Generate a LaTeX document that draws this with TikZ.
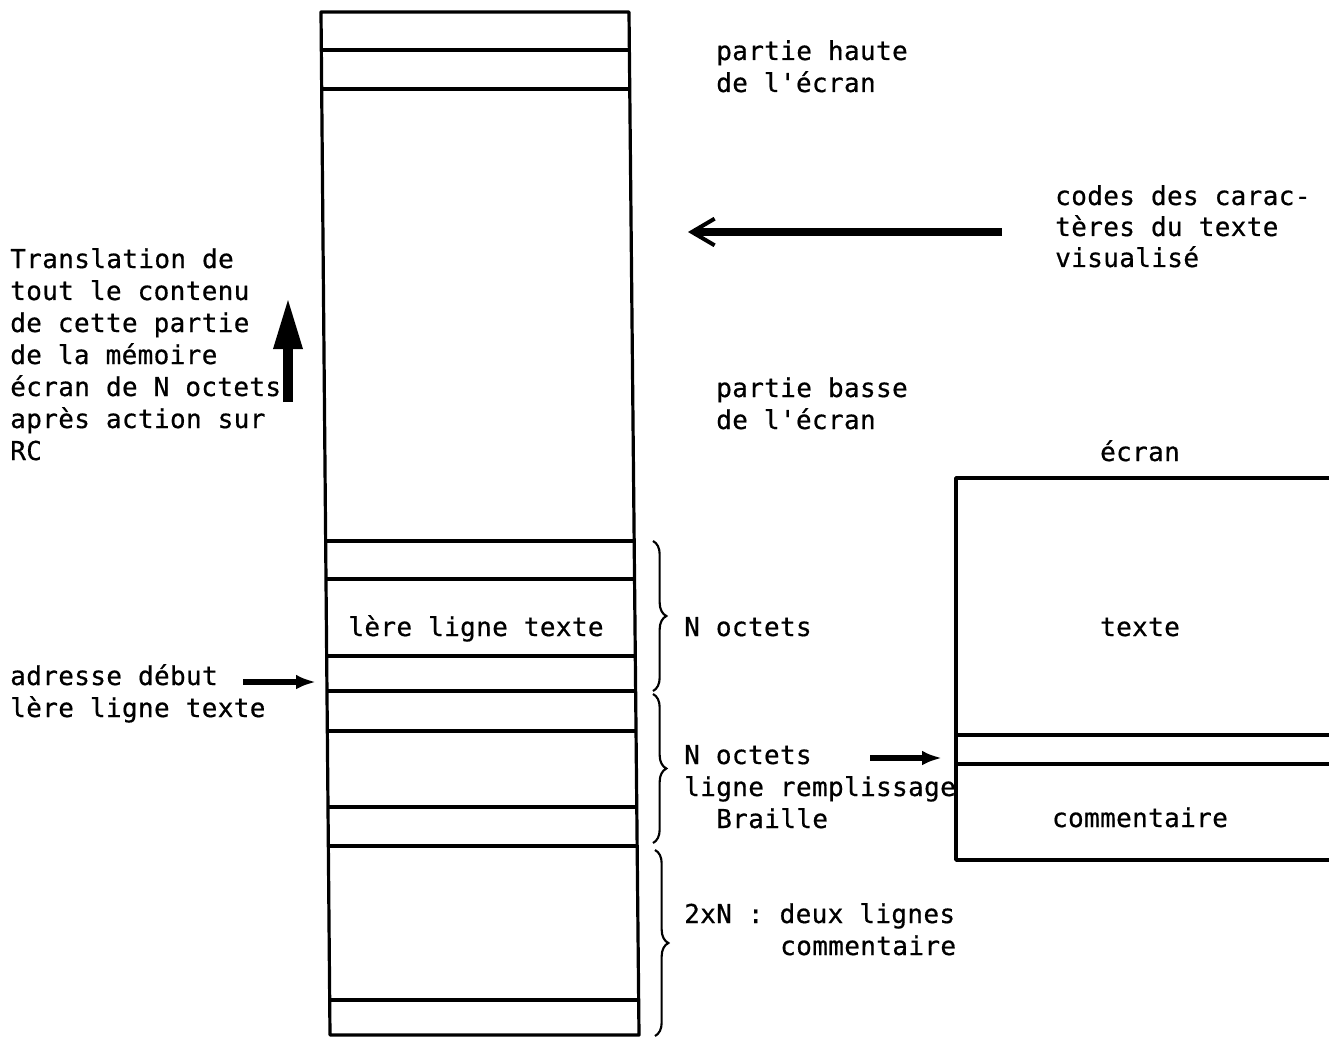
\documentclass[tikz,border=0pt]{standalone}
\usepackage{fontspec}
\newfontfamily\monoff[LetterSpace=1.4,FakeBold=0.6,Ligatures=TeXOff]{DejaVu Sans Mono}
\usetikzlibrary{arrows.meta,calc,decorations.pathreplacing}
\begin{document}
\begin{tikzpicture}[x=0.75pt,y=-0.75pt,
  txt/.style={font=\monoff\fontsize{19.5}{24}\selectfont, inner sep=0pt, anchor=base west},
  ctxt/.style={txt, anchor=base},
  memedge/.style={line width=2.4pt, line join=round},
  memline/.style={line width=2.8pt},
  scrline/.style={line width=2.6pt},
  curly/.style={line width=1.6pt, decorate, decoration={brace, amplitude=10pt}},
  bigleft/.style={line width=6.5pt, -{Straight Barb[length=17pt, width=20pt, line width=3pt]}},
  bigup/.style={line width=7.5pt, -{Triangle[length=39pt, width=20pt]}},
  smallarrow/.style={line width=3.8pt, -{Latex[length=15pt, width=11pt]}}
]
\fill[white] (0,0) rectangle (1329,1038);
\useasboundingbox (0,0) rectangle (1329,1038);

% memory column
\coordinate (TL) at (321,12);
\coordinate (TR) at (629,12);
\coordinate (BL) at (330,1035);
\coordinate (BR) at (639,1035);
\draw[memedge] (TL) -- (TR) -- (BR) -- (BL) -- cycle;
\foreach \f in {0.0371,0.0753,0.5171,0.5543,0.6295,0.6637,0.7028,0.7771,0.8152,0.9658}
  \draw[memline] ($(TL)!\f!(BL)$) -- ($(TR)!\f!(BR)$);

% screen
\coordinate (S1) at (956,478);
\coordinate (S2) at (1329,478);
\coordinate (S3) at (956,860);
\coordinate (S4) at (1329,860);
\draw[scrline, line join=round] (S2) -- (S1) -- (S3) -- (S4);
\draw[scrline] (956,735) -- (1329,735);
\draw[scrline] (956,764) -- (1329,764);

% texts
\node[txt] (ph1) at (716,60) {partie haute};
\node[txt] (ph2) at (716,92) {de l'écran};
\node[txt] (cd1) at (1055,205) {codes des carac-};
\node[txt] (cd2) at (1055,236) {tères du texte};
\node[txt] (cd3) at (1055,267) {visualisé};
\node[txt] (tr1) at (10,268) {Translation de};
\node[txt] (tr2) at (10,300) {tout le contenu};
\node[txt] (tr3) at (10,332) {de cette partie};
\node[txt] (tr4) at (10,364) {de la mémoire};
\node[txt] (tr5) at (10,396) {écran de N octets};
\node[txt] (tr6) at (10,428) {après action sur};
\node[txt] (tr7) at (10,460) {RC};
\node[txt] (pb1) at (716,397) {partie basse};
\node[txt] (pb2) at (716,429) {de l'écran};
\node[ctxt] (ecran) at (1140,461) {écran};
\node[ctxt] (ligne1) at (476,636) {lère ligne texte};
\node[txt] (no1) at (684,636) {N octets};
\node[ctxt] (texte) at (1140,636) {texte};
\node[txt] (ad1) at (10,685) {adresse début};
\node[txt] (ad2) at (10,717) {lère ligne texte};
\node[txt] (no2) at (684,764) {N octets};
\node[txt] (rl) at (684,796) {ligne remplissage};
\node[txt] (br) at (716,828) {Braille};
\node[ctxt] (com) at (1140,827) {commentaire};
\node[txt] (dx1) at (684,923) {2xN : deux lignes};
\node[txt] (dx2) at (780,955) {commentaire};

% arrows
\coordinate (aS) at (1002,232);
\coordinate (aE) at (688,232);
\draw[bigleft] (aS) -- (aE);
\coordinate (uS) at (288,402);
\coordinate (uE) at (288,297);
\draw[bigup] (uS) -- (uE);
\coordinate (adS) at (243,682);
\coordinate (adE) at (316,682);
\draw[smallarrow] (adS) -- (adE);
\coordinate (nS) at (870,758);
\coordinate (nE) at (942,758);
\draw[smallarrow] (nS) -- (nE);

% braces
\coordinate (b1t) at (653,541);
\coordinate (b1b) at (653,691);
\coordinate (b2t) at (653,694);
\coordinate (b2b) at (653,843);
\coordinate (b3t) at (655,850);
\coordinate (b3b) at (655,1036);
\draw[curly] (b1t) -- (b1b);
\draw[curly] (b2t) -- (b2b);
\draw[curly] (b3t) -- (b3b);
\end{tikzpicture}
\end{document}
